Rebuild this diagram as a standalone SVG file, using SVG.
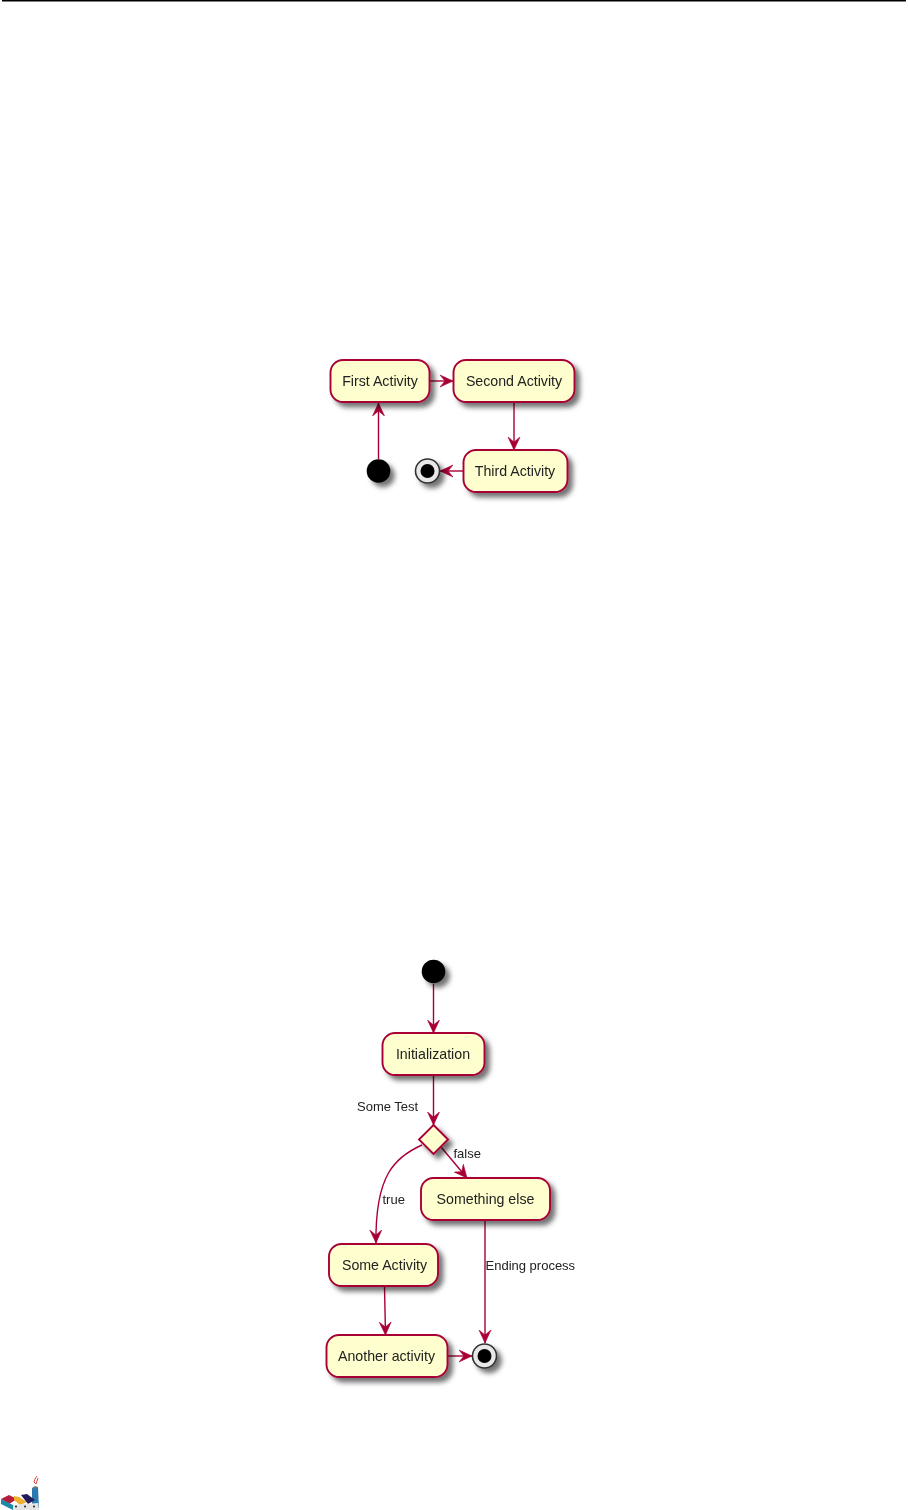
<svg xmlns="http://www.w3.org/2000/svg" width="908" height="1510" viewBox="0 0 908 1510">
<style>
.n{fill:#FEFECE;stroke:#A80036;stroke-width:1.9}
.c{fill:none;stroke:#A80036;stroke-width:1.4}
.h{fill:#A80036;stroke:#A80036;stroke-width:.6}
text{font-family:"Liberation Sans",Arial,sans-serif;fill:#222}
.t{font-size:14.2px;text-anchor:middle}
.l{font-size:13px}
.s{filter:url(#sh)}
.soft{filter:url(#b)}
</style>
<defs>
<filter id="sh" x="-50%" y="-50%" width="220%" height="220%"><feDropShadow dx="4.500" dy="4.500" stdDeviation="2.800" flood-color="#000" flood-opacity=".55"/></filter>
<filter id="b" x="-50%" y="-50%" width="220%" height="220%"><feGaussianBlur stdDeviation=".45"/></filter>
<marker id="a" viewBox="0 0 14 14" refX="13" refY="7" markerWidth="14" markerHeight="14" markerUnits="userSpaceOnUse" orient="auto"><path class="h" d="M0,1 L13,7 L0,13 L5,7 Z"/></marker>
</defs>
<rect width="908" height="1510" fill="#fff"/>
<line x1="2" y1="0.800" x2="906" y2="0.800" stroke="#000" stroke-width="1.600"/>
<g id="connectors" class="soft">
<path class="c" marker-end="url(#a)" d="M378.500,459 L378.500,403"/>
<path class="c" marker-end="url(#a)" d="M430,381 L453,381"/>
<path class="c" marker-end="url(#a)" d="M514,402 L514,450"/>
<path class="c" marker-end="url(#a)" d="M463,471 L440,471"/>
<path class="c" marker-end="url(#a)" d="M433.500,984 L433.500,1033"/>
<path class="c" marker-end="url(#a)" d="M433.500,1075 L433.500,1125"/>
<path class="c" marker-end="url(#a)" d="M441,1147 L467,1178"/>
<path class="c" marker-end="url(#a)" d="M422,1145 C395,1157 375,1175 376,1243"/>
<path class="c" marker-end="url(#a)" d="M384.500,1286 L385.500,1335"/>
<path class="c" marker-end="url(#a)" d="M485,1220 L485,1343"/>
<path class="c" marker-end="url(#a)" d="M447,1356 L472,1356"/>
</g>
<g id="start1" class="soft"><circle class="s" cx="378.500" cy="471" r="11.800" fill="#000"/></g>
<g id="end1" class="soft"><circle class="s" cx="427.500" cy="471" r="12" fill="#e8e8e8" stroke="#333" stroke-width="1.600"/><circle cx="427.500" cy="471" r="7" fill="#000"/></g>
<g id="first" class="soft"><rect class="n s" x="330.500" y="360" width="99" height="42" rx="12.500"/><text class="t" x="380" y="385.500">First Activity</text></g>
<g id="second" class="soft"><rect class="n s" x="453.500" y="360" width="121" height="42" rx="12.500"/><text class="t" x="514" y="385.500">Second Activity</text></g>
<g id="third" class="soft"><rect class="n s" x="463.500" y="450" width="104" height="42" rx="12.500"/><text class="t" x="515" y="475.500">Third Activity</text></g>
<g id="start2" class="soft"><circle class="s" cx="433.500" cy="971.500" r="11.800" fill="#000"/></g>
<g id="init" class="soft"><rect class="n s" x="382.500" y="1033" width="102" height="42" rx="12.500"/><text class="t" x="433" y="1058.500">Initialization</text></g>
<g id="test" class="soft"><polygon class="n s" points="433.500,1125 448,1139.500 433.500,1154 419,1139.500"/></g>
<g id="else" class="soft"><rect class="n s" x="421" y="1178" width="129" height="42" rx="12.500"/><text class="t" x="485.500" y="1203.500">Something else</text></g>
<g id="some" class="soft"><rect class="n s" x="329" y="1244" width="109" height="42" rx="12.500"/><text class="t" x="384.500" y="1269.500">Some Activity</text></g>
<g id="another" class="soft"><rect class="n s" x="326.500" y="1335" width="121" height="42" rx="12.500"/><text class="t" x="386.500" y="1360.500">Another activity</text></g>
<g id="end2" class="soft"><circle class="s" cx="484.500" cy="1356" r="12" fill="#e8e8e8" stroke="#333" stroke-width="1.600"/><circle cx="484.500" cy="1356" r="7" fill="#000"/></g>
<g id="labels" class="soft">
<text class="l" x="357" y="1111">Some Test</text>
<text class="l" x="453.500" y="1158">false</text>
<text class="l" x="382.500" y="1204">true</text>
<text class="l" x="485.500" y="1270">Ending process</text>
</g>
<g id="logo" class="soft">
<path d="M37,1476 l-2,3 -1,3 2,2 M38,1478 l-1,3 -1,3" fill="none" stroke="#d33" stroke-width=".9"/>
<polygon points="32,1488 38,1487 39,1508 32,1508" fill="#2a7ab0"/>
<polygon points="32,1488 35,1486 38,1487 35,1489" fill="#777"/>
<polygon points="1,1499 9,1495 17,1499 9,1504" fill="#b81e3c"/>
<polygon points="14,1496 19,1497 27,1502 20,1505 14,1500" fill="#eeb02d"/>
<polygon points="21,1495 27,1494 35,1500 28,1504" fill="#241a5c"/>
<polygon points="1,1499 13,1505 13,1510 1,1504" fill="#1e8ba6"/>
<polygon points="13,1505 38,1503 39,1510 13,1510" fill="#e4e4e4"/>
<circle cx="16" cy="1506.500" r="1" fill="#222"/><circle cx="25" cy="1506.500" r="1" fill="#222"/><circle cx="34" cy="1506.500" r="1" fill="#222"/>
</g>
</svg>
